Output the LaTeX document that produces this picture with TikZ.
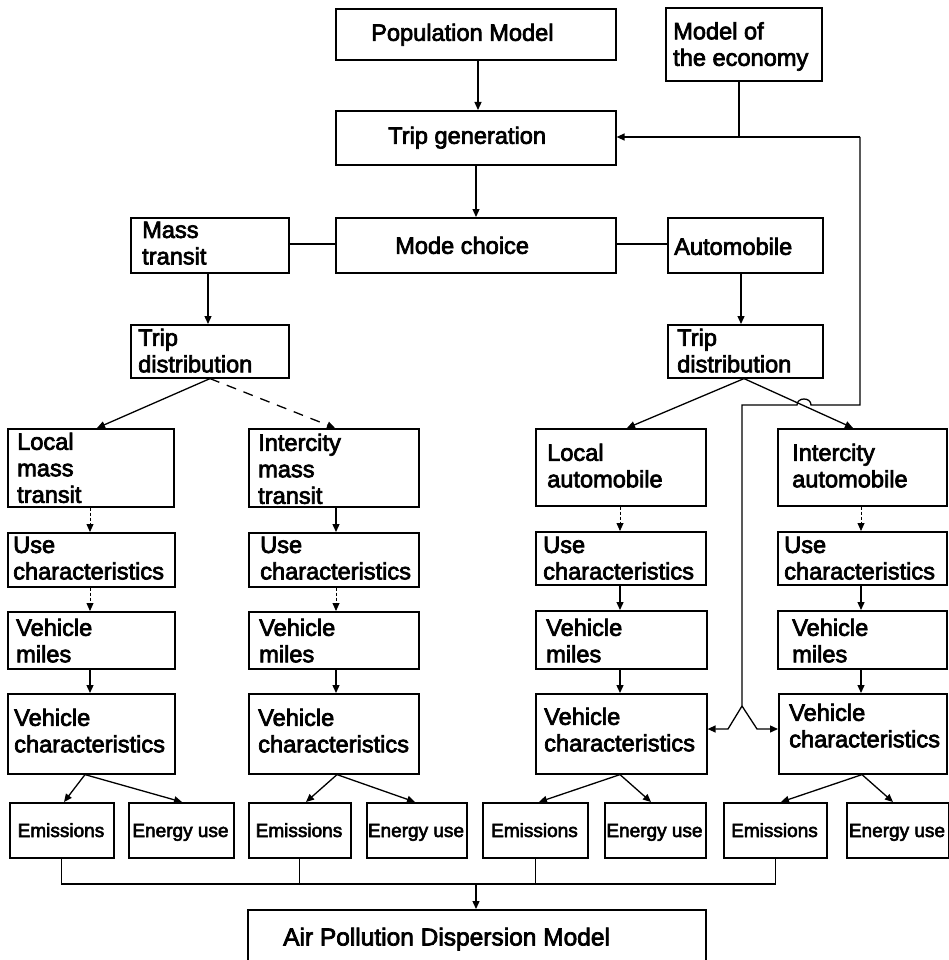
\documentclass[tikz,border=0pt]{standalone}
\usepackage{fontspec}
\setmainfont{Liberation Sans}[FakeBold=3]
\usetikzlibrary{arrows.meta,calc}
% box with top-left (#2,#3) and bottom-right (#4,#5)
\newcommand\mkbox[5]{\node[bx, anchor=north west, minimum width={(#4)-(#2)}, minimum height={(#5)-(#3)}] (#1) at (#2,#3) {};}
\begin{document}
\begin{tikzpicture}[x=1pt,y=-1pt,
  bx/.style={draw, line width=1.6pt, inner sep=0pt},
  lbl/.style={inner sep=0pt, anchor=north west, align=left, font=\fontsize{23.6}{26.5}\selectfont},
  sml/.style={inner sep=0pt, anchor=base, font=\fontsize{19}{22}\selectfont},
  con/.style={line width=1.3pt},
  arr/.style={con, -{Triangle[length=8pt,width=7pt]}},
  faint/.style={arr, line width=0.8pt, densely dashed},
  lnk/.style={arr, dash pattern=on 10pt off 8pt}]
\useasboundingbox (0,0) rectangle (949,960);

% column axes
\coordinate (c1) at (90,0);
\coordinate (c2) at (336,0);
\coordinate (c3) at (620,0);
\coordinate (c4) at (861,0);

% ---------- upper part ----------
\mkbox{pop}{335}{8}{615}{59}
\node[lbl] (pop-t) at (371,23.5) {Population Model};
\mkbox{econ}{665}{7}{821}{80}
\node[lbl] (econ-t) at (673,22) {Model of\\the economy};
\mkbox{tg}{335}{110}{615}{164}
\node[lbl] (tg-t) at (388,126.5) {Trip generation};
\mkbox{mode}{335}{217}{615}{272}
\node[lbl] (mode-t) at (395,236.5) {Mode choice};
\mkbox{mass}{130}{217}{288}{272}
\node[lbl] (mass-t) at (142,221.5) {Mass\\transit};
\mkbox{auto}{667}{217}{822}{272}
\node[lbl] (auto-t) at (674,237.5) {Automobile};
\mkbox{tdL}{130}{324}{288}{377}
\node[lbl] (tdL-t) at (138,328.5) {Trip\\distribution};
\mkbox{tdR}{667}{324}{822}{377}
\node[lbl] (tdR-t) at (677,328.5) {Trip\\distribution};

% ---------- four columns ----------
\mkbox{lmt}{7}{428}{173}{506}
\node[lbl] (lmt-t) at (17,432.5) {Local\\mass\\transit};
\mkbox{imt}{248}{428}{418}{506}
\node[lbl] (imt-t) at (258,433.5) {Intercity\\mass\\transit};
\mkbox{lau}{535}{428}{705}{505}
\node[lbl] (lau-t) at (547,443.5) {Local\\automobile};
\mkbox{iau}{777}{428}{946}{505}
\node[lbl] (iau-t) at (792,443.5) {Intercity\\automobile};

\mkbox{u1}{7}{532}{174}{586}
\node[lbl] (u1-t) at (13,536.5) {Use\\characteristics};
\mkbox{u2}{248}{532}{418}{586}
\node[lbl] (u2-t) at (260,536.5) {Use\\characteristics};
\mkbox{u3}{535}{531}{705}{584}
\node[lbl] (u3-t) at (543,536.5) {Use\\characteristics};
\mkbox{u4}{777}{531}{946}{584}
\node[lbl] (u4-t) at (784,536.5) {Use\\characteristics};

\mkbox{m1}{7}{611}{174}{668}
\node[lbl] (m1-t) at (16,618.5) {Vehicle\\miles};
\mkbox{m2}{248}{611}{418}{668}
\node[lbl] (m2-t) at (259,618.5) {Vehicle\\miles};
\mkbox{m3}{535}{610}{706}{668}
\node[lbl] (m3-t) at (546,618.5) {Vehicle\\miles};
\mkbox{m4}{777}{610}{946}{668}
\node[lbl] (m4-t) at (792,618.5) {Vehicle\\miles};

\mkbox{vc1}{7}{693}{174}{773}
\node[lbl] (vc1-t) at (14,708.5) {Vehicle\\characteristics};
\mkbox{vc2}{248}{693}{418}{773}
\node[lbl] (vc2-t) at (258,708.5) {Vehicle\\characteristics};
\mkbox{vc3}{535}{693}{706}{773}
\node[lbl] (vc3-t) at (544,707.5) {Vehicle\\characteristics};
\mkbox{vc4}{778}{693}{946}{773}
\node[lbl] (vc4-t) at (789,703.5) {Vehicle\\characteristics};

% ---------- emissions / energy row ----------
\mkbox{e1}{9}{802}{113}{857}
\node[sml] (e1-t) at (61,837) {Emissions};
\mkbox{g1}{128}{802}{233}{857}
\node[sml] (g1-t) at (180.5,837) {Energy use};
\mkbox{e2}{248}{802}{350}{857}
\node[sml] (e2-t) at (299,837) {Emissions};
\mkbox{g2}{366}{802}{466}{857}
\node[sml] (g2-t) at (416,837) {Energy use};
\mkbox{e3}{482}{802}{587}{857}
\node[sml] (e3-t) at (534.5,837) {Emissions};
\mkbox{g3}{604}{802}{705}{857}
\node[sml] (g3-t) at (654.5,837) {Energy use};
\mkbox{e4}{723}{802}{826}{857}
\node[sml] (e4-t) at (774.5,837) {Emissions};
\mkbox{g4}{846}{802}{948}{857}
\node[sml] (g4-t) at (897,837) {Energy use};

\mkbox{apd}{247}{909}{705}{980}
\node[lbl, font=\fontsize{24.5}{28}\selectfont] (apd-t) at (283,927.5) {Air Pollution Dispersion Model};

% ---------- connectors, upper part ----------
\draw[arr] (pop.south -| 478,0) -- (tg.north -| 478,0);
\draw[arr] (tg.south -| 476,0) -- (mode.north -| 476,0);
\draw[con] (mode.west |- 0,244) -- (mass.east |- 0,244);
\draw[con] (mode.east |- 0,244) -- (auto.west |- 0,244);
\draw[arr] (mass.south -| 208,0) -- (tdL.north -| 208,0);
\draw[arr] (auto.south -| 741,0) -- (tdR.north -| 741,0);

% feedback loop from the economy and the vehicle characteristics
\coordinate (fbA) at (860,137);
\coordinate (ej) at (739,137);
\draw[arr] (fbA) -- (tg.east |- fbA);
\draw[con] (econ.south -| ej) -- (ej);
\draw[con] (fbA) -- (860,405) -- (811,405) .. controls (811,397) and (797,397) .. (797,405) -- (742,405) -- (742,706) coordinate (fbS);
\draw[arr] (fbS) -- (728,729) -- (vc3.east |- 0,729);
\draw[arr] (fbS) -- (757,729) -- (vc4.west |- 0,729);

% split below the trip distributions
\coordinate (sL) at (tdL.south -| 210,0);
\coordinate (sR) at (tdR.south -| 744,0);
\draw[arr] (sL) -- (lmt.north -| 97,0);
\draw[lnk] (sL) -- (imt.north -| 335,0);
\draw[arr] (sR) -- (lau.north -| 627,0);
\draw[arr] (sR) -- (iau.north -| 853,0);

% ---------- column chains ----------
\draw[faint] (lmt.south -| c1) -- (u1.north -| c1);
\draw[faint] (u1.south -| c1) -- (m1.north -| c1);
\draw[arr] (m1.south -| c1) -- (vc1.north -| c1);

\draw[arr] (imt.south -| c2) -- (u2.north -| c2);
\draw[faint] (u2.south -| c2) -- (m2.north -| c2);
\draw[arr] (m2.south -| c2) -- (vc2.north -| c2);

\draw[faint] (lau.south -| c3) -- (u3.north -| c3);
\draw[arr] (u3.south -| c3) -- (m3.north -| c3);
\draw[arr] (m3.south -| c3) -- (vc3.north -| c3);

\draw[faint] (iau.south -| c4) -- (u4.north -| c4);
\draw[arr] (u4.south -| c4) -- (m4.north -| c4);
\draw[arr] (m4.south -| c4) -- (vc4.north -| c4);

% ---------- to emissions and energy use ----------
\draw[arr] (vc1.south -| 85,0) -- (e1.north -| 64,0);
\draw[arr] (vc1.south -| 85,0) -- (g1.north -| 182,0);
\draw[arr] (vc2.south -| 337,0) -- (e2.north -| 306,0);
\draw[arr] (vc2.south -| 337,0) -- (g2.north -| 415,0);
\draw[arr] (vc3.south -| 620,0) -- (e3.north -| 539,0);
\draw[arr] (vc3.south -| 620,0) -- (g3.north -| 651,0);
\draw[arr] (vc4.south -| 862,0) -- (e4.north -| 781,0);
\draw[arr] (vc4.south -| 862,0) -- (g4.north -| 893,0);

% ---------- emissions collector ----------
\coordinate (bus) at (476,884);
\draw[con] (e1.south) -- (e1.south |- bus) -- (e4.south |- bus) -- (e4.south);
\draw[con] (e2.south) -- (e2.south |- bus);
\draw[con] (e3.south) -- (e3.south |- bus);
\draw[arr] (bus) -- (apd.north -| bus);
\end{tikzpicture}
\end{document}
